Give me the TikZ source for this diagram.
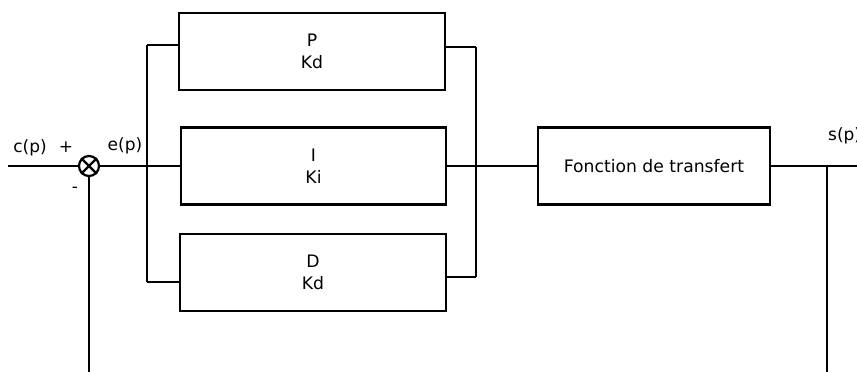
\documentclass[tikz,border=0pt]{standalone}
\usepackage{fontspec}
\setmainfont{DejaVu Sans}
\begin{document}
\begin{tikzpicture}[x=1pt,y=-1pt,
  wire/.style={line width=2.2pt},
  blk/.style={draw,line width=2.2pt,minimum height=77pt,inner sep=0pt,align=center,
    font=\fontsize{17.2}{22}\selectfont},
  lbl/.style={font=\fontsize{17}{19}\selectfont,inner sep=0pt}]
\useasboundingbox (0,0) rectangle (857,372);
\node[blk,minimum width=266pt] (P) at (312,51.5) {P\\Kd};
\node[blk,minimum width=265pt] (I) at (313.5,166) {I\\Ki};
\node[blk,minimum width=266pt] (D) at (313,272.5) {D\\Kd};
\node[blk,minimum width=232pt] (TF) at (654,166) {Fonction de transfert};
\node[circle,draw,line width=2.2pt,minimum size=20pt,inner sep=0pt] (sum) at (89,166) {};
\draw[wire] (sum.north west) -- (sum.south east);
\draw[wire] (sum.north east) -- (sum.south west);
\coordinate (in) at (8,166);
\coordinate (lt) at (147,45);
\coordinate (lb) at (147,282);
\coordinate (rt) at (476,47);
\coordinate (rb) at (476,277);
\coordinate (out) at (857,166);
\coordinate (fb) at (827,166);
\coordinate (fbb) at (827,372);
\coordinate (sb) at (89,372);
\draw[wire] (in) -- (sum.west);
\draw[wire] (sum.east) -- (I.west);
\draw[wire] (lt) -- (lb);
\draw[wire] (lt) -- (lt -| P.west);
\draw[wire] (lb) -- (lb -| D.west);
\draw[wire] (rt) -- (rb);
\draw[wire] (rt -| P.east) -- (rt);
\draw[wire] (rb -| D.east) -- (rb);
\draw[wire] (I.east) -- (TF.west);
\draw[wire] (TF.east) -- (out);
\draw[wire] (fb) -- (fbb);
\draw[wire] (sum.south) -- (sb);
\node[lbl] (cp) at (30,148) {c(p)};
\node[lbl] (plus) at (66,147) {+};
\node[lbl] (ep) at (125,146) {e(p)};
\node[lbl] (minus) at (75,190) {-};
\node[lbl,anchor=west] (sp) at (828,136) {s(p)};
\end{tikzpicture}
\end{document}
